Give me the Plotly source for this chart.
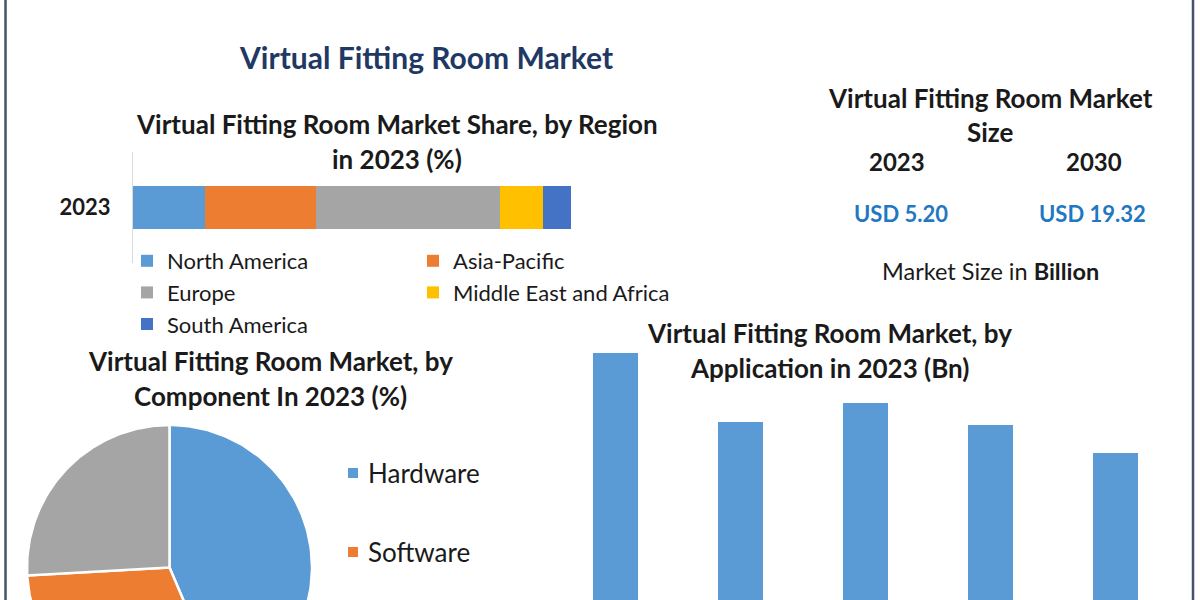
import numpy as np
import plotly.graph_objects as go

# ---------------- data ----------------
regions = ["North America", "Asia-Pacific", "Europe", "Middle East and Africa", "South America"]
region_share = [16.4, 25.3, 42.0, 9.8, 6.5]
region_colors = ["#5B9BD5", "#ED7D31", "#A5A5A5", "#FFC000", "#4472C4"]
region_legend = ["legend", "legend2", "legend", "legend2", "legend"]
region_year = ["2023"]

components = ["Hardware", "Software", "Services"]
component_share = [43.6, 30.5, 25.9]
component_colors = ["#5B9BD5", "#ED7D31", "#A5A5A5"]
components_in_view = 2  # the third legend entry lies below the visible area in the reference

applications = ["Apparel", "Beauty & Cosmetics", "Eyewear", "Jewelry & Watches", "Others"]
application_values = [1.25, 1.00, 1.07, 0.99, 0.89]

size_years = ["2023", "2030"]
size_values = [5.20, 19.32]

FONT = "Lato"
W, H = 1200, 600


def px(x):
    return x / W


def py(y):
    return 1 - y / H


fig = go.Figure()

# ---------------- stacked region bar ----------------
for name, val, col, lg in zip(regions, region_share, region_colors, region_legend):
    fig.add_trace(go.Bar(
        x=[val], y=region_year, orientation="h", name=name,
        marker=dict(color=col, line=dict(width=0)), width=0.39,
        xaxis="x", yaxis="y", legend=lg, showlegend=True,
    ))

# ---------------- application bars ----------------
fig.add_trace(go.Bar(
    x=applications, y=application_values, marker=dict(color="#5B9BD5", line=dict(width=0)),
    width=0.36, xaxis="x2", yaxis="y2", showlegend=False,
))

# ---------------- component pie (wedges on a clipped cartesian axis) ----------------
total = sum(component_share)
start = 90.0
for name, val, col in zip(components, component_share, component_colors):
    sweep = 360.0 * val / total
    ang = np.radians(np.linspace(start, start - sweep, 120))
    xs = np.concatenate([[0], np.cos(ang), [0]])
    ys = np.concatenate([[0], np.sin(ang), [0]])
    fig.add_trace(go.Scatter(
        x=xs, y=ys, mode="lines", fill="toself", fillcolor=col,
        line=dict(color="white", width=2.5), name=name,
        xaxis="x3", yaxis="y3", showlegend=False, hoverinfo="name",
    ))
    start -= sweep

R = 142.5  # pixels per unit radius
cx, cy = 169.5, 567.5
x3_dom = (10, 330)
y3_dom = (600, 415)

legend_font = dict(family=FONT, size=22, color="#1a1a1a")
layout = dict(
    width=W, height=H,
    margin=dict(l=0, r=0, t=0, b=0),
    paper_bgcolor="white", plot_bgcolor="white",
    barmode="stack",
    font=dict(family=FONT, color="#1a1a1a"),
    xaxis=dict(domain=[px(133), px(571)], range=[0, 100], visible=False, fixedrange=True),
    yaxis=dict(domain=[py(263), py(152)], range=[-0.5, 0.5], type="category",
               showline=True, linecolor="#d9d9d9", linewidth=1.2, ticks="",
               ticklabelstandoff=17, showgrid=False, zeroline=False,
               tickfont=dict(family=FONT, size=22, color="#1a1a1a", weight="bold")),
    xaxis2=dict(domain=[px(552.5), px(1177.5)], range=[-0.5, 4.5], visible=False, anchor="y2"),
    yaxis2=dict(domain=[0, py(300)], range=[0.36, 1.44], visible=False, anchor="x2"),
    xaxis3=dict(domain=[px(x3_dom[0]), px(x3_dom[1])],
                range=[(x3_dom[0] - cx) / R, (x3_dom[1] - cx) / R], visible=False, anchor="y3"),
    yaxis3=dict(domain=[py(y3_dom[0]), py(y3_dom[1])],
                range=[(cy - y3_dom[0]) / R, (cy - y3_dom[1]) / R], visible=False, anchor="x3"),
    legend=dict(x=px(127), y=py(240), xanchor="left", yanchor="top", traceorder="normal",
                font=legend_font, bgcolor="rgba(0,0,0,0)", orientation="v", itemclick=False),
    legend2=dict(x=px(413), y=py(240), xanchor="left", yanchor="top", traceorder="normal",
                 font=legend_font, bgcolor="rgba(0,0,0,0)", orientation="v", itemclick=False),
    showlegend=True,
)
fig.update_layout(**layout)

annotations = []


def txt(text, x, y, size, color="#1a1a1a", bold=True, anchor="center"):
    annotations.append(dict(
        text=f"<b>{text}</b>" if bold else text, x=px(x), y=py(y), xref="paper", yref="paper",
        xanchor=anchor, yanchor="middle", showarrow=False,
        font=dict(family=FONT, size=size, color=color)))


txt("Virtual Fitting Room Market", 426, 57, 30, color="#1F3864")
txt("Virtual Fitting Room Market Share, by Region", 397, 124, 26)
txt("in 2023 (%)", 397, 159, 26)
txt("Virtual Fitting Room Market", 990, 98, 26)
txt("Size", 990, 132, 26)
for yr, val, x in zip(size_years, size_values, [897, 1094]):
    txt(yr, x, 161, 24)
    txt(f"USD {val:.2f}", x + (4 if yr == "2023" else -2), 213, 22, color="#1F78C1")
txt("Market Size in <b>Billion</b>", 990, 271, 23.5, bold=False)
txt("Virtual Fitting Room Market, by", 270, 361, 26)
txt("Component In 2023 (%)", 270, 396, 26)
txt("Virtual Fitting Room Market, by", 829, 333, 26)
txt("Application in 2023 (Bn)", 829, 368, 26)

shapes = []
# pie legend (custom, spaced like the reference)
for i, (name, col) in enumerate(zip(components[:components_in_view], component_colors)):
    yc = 473 + 79 * i
    shapes.append(dict(type="rect", xref="paper", yref="paper",
                       x0=px(348), x1=px(358), y0=py(yc + 5), y1=py(yc - 5),
                       fillcolor=col, line=dict(width=0)))
    txt(name, 366, yc, 26, bold=False, anchor="left")

# frame lines
for x in (5.5, 1193):
    shapes.append(dict(type="line", xref="paper", yref="paper", x0=px(x), x1=px(x), y0=0, y1=1,
                       line=dict(color="#44546A", width=2.5)))

fig.update_layout(annotations=annotations, shapes=shapes)
fig.write_html("out.html", config={"displayModeBar": False},
               post_script="document.body.style.margin='0';")
